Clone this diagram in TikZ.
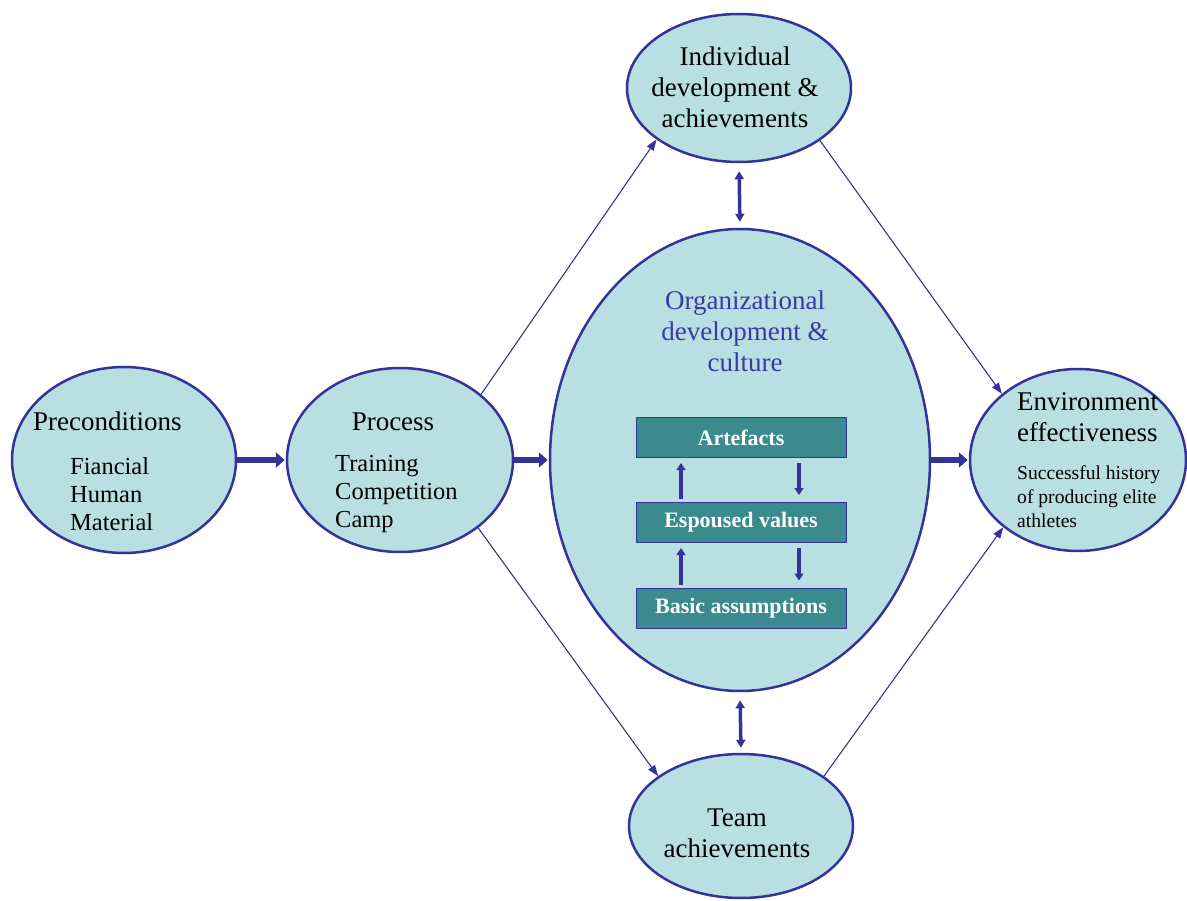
\documentclass[tikz,border=0pt]{standalone}
\usepackage{fontspec}
\setmainfont{Liberation Serif}
\usepackage{tikz}
\usetikzlibrary{shapes.geometric}
\usetikzlibrary{arrows.meta}

\definecolor{bubblefill}{HTML}{B9DFE3}
\definecolor{inkblue}{HTML}{333399}
\definecolor{layerfill}{HTML}{3B8A8E}
\definecolor{orgtext}{HTML}{3A3AA2}

\tikzset{
   bubble/.style={
      ellipse,
      draw = inkblue,
      fill = bubblefill,
      line width = 2.5pt,
      inner sep = 0pt
   },
   layer/.style={
      rectangle,
      draw = inkblue,
      fill = layerfill,
      line width = 1pt,
      minimum width = 210pt,
      minimum height = 40pt,
      text = white,
      font = \fontsize{22}{26}\selectfont\bfseries
   },
   headtext/.style={inner sep=0pt, font=\fontsize{27}{31}\selectfont},
   listtext/.style={inner sep=0pt, align=left, font=\fontsize{24.5}{28}\selectfont},
   fatarrow/.style={inkblue, line width=6pt, -{Triangle[length=9pt,width=15pt]}},
   thinarrow/.style={inkblue, line width=1.1pt, -{Triangle[length=11pt,width=8pt]}},
   duoarrow/.style={inkblue, line width=3.5pt, {Triangle[length=8pt,width=9pt]}-{Triangle[length=8pt,width=9pt]}},
   stackarrow/.style={inkblue, line width=4pt, -{Triangle[length=7pt,width=9pt]}}
}

\begin{document}
\begin{tikzpicture}[x=1pt, y=-1pt]
   \useasboundingbox (0,0) rectangle (1187,901);

   % the six ellipses
   \node[bubble, minimum width=224pt, minimum height=186pt] (pre) at (124,460) {};
   \node[bubble, minimum width=226pt, minimum height=184pt] (proc) at (400,460) {};
   \node[bubble, minimum width=224pt, minimum height=148pt] (ind) at (739,88) {};
   \node[bubble, minimum width=380pt, minimum height=462pt] (org) at (740,460) {};
   \node[bubble, minimum width=224pt, minimum height=144pt] (team) at (741,826) {};
   \node[bubble, minimum width=216pt, minimum height=182pt] (env) at (1078,460) {};

   % texts
   \node[headtext, anchor=west] (pretitle) at (33,421) {Preconditions};
   \node[listtext, anchor=west] (prelist) at (70,494) {Fiancial\\Human\\Material};
   \node[headtext] (proctitle) at (393,422) {Process};
   \node[listtext, anchor=west] (proclist) at (335,494) {Training\\Competition\\Camp};
   \node[headtext, align=center] (indtext) at (735,87) {Individual\\development \&\\achievements};
   \node[headtext, align=center, text=orgtext] (orgtext) at (745,331) {Organizational\\development \&\\culture};
   \node[headtext, align=center] (teamtext) at (737,833) {Team\\achievements};
   \node[headtext, align=left, anchor=west] (envtitle) at (1017,417) {Environment\\effectiveness};
   \node[inner sep=0pt, align=left, anchor=west, font=\fontsize{19.6}{24}\selectfont] (envtext) at (1017,497) {Successful history\\of producing elite\\athletes};

   % culture layers
   \node[layer] (art) at (741,437.5) {Artefacts};
   \node[layer] (esp) at (741,522.5) {Espoused values};
   \node[layer] (bas) at (741,608) {Basic assumptions};

   \foreach \lo/\hi in {esp/art, bas/esp} {
      \draw[stackarrow, shorten <=3pt, shorten >=5pt] ([xshift=-60pt]\lo.north) -- ([xshift=-60pt]\hi.south);
      \draw[stackarrow, shorten <=5pt, shorten >=7pt] ([xshift=58pt]\hi.south) -- ([xshift=58pt]\lo.north);
   }

   % main flow
   \draw[fatarrow, shorten >=1pt] (pre.east) -- (proc.west);
   \draw[fatarrow, shorten >=1pt] (proc.east) -- (org.west);
   \draw[fatarrow, shorten >=1pt] (org.east) -- (env.west);

   \draw[thinarrow] (proc.39) -- (ind.212);
   \draw[thinarrow] (ind.-33) -- (env.139);
   \draw[thinarrow] (proc.-41) -- (team.149);
   \draw[thinarrow] (team.31) -- (env.-138);

   \draw[duoarrow, shorten <=8pt, shorten >=6pt] (ind.south) -- (org.north);
   \draw[duoarrow, shorten <=8pt, shorten >=5pt] (org.south) -- (team.north);
\end{tikzpicture}
\end{document}
